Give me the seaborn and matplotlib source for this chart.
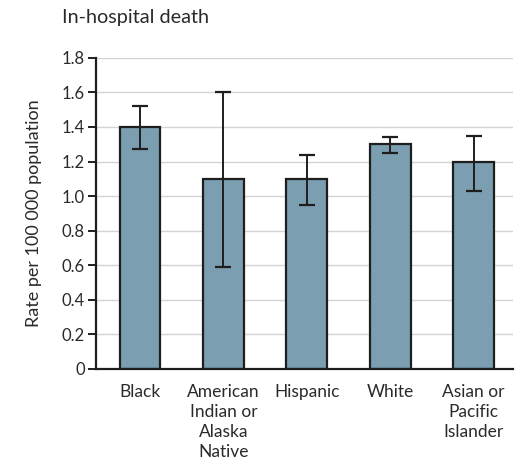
import matplotlib
matplotlib.use("Agg")
import matplotlib.pyplot as plt
import seaborn as sns
import pandas as pd

groups = ["Black", "American\nIndian or\nAlaska\nNative", "Hispanic", "White",
          "Asian or\nPacific\nIslander"]
rates = [1.4, 1.1, 1.1, 1.3, 1.2]
ci_low = [1.27, 0.59, 0.95, 1.25, 1.03]
ci_high = [1.52, 1.60, 1.24, 1.34, 1.35]
yticks = [0, 0.2, 0.4, 0.6, 0.8, 1.0, 1.2, 1.4, 1.6, 1.8]

sns.set_style("white")
plt.rcParams["font.family"] = ["Lato", "DejaVu Sans"]

df = pd.DataFrame({"group": groups, "rate": rates})

fig = plt.figure(figsize=(5.15, 4.70), dpi=100)
ax = fig.add_axes([0.186, 0.215, 0.81, 0.662])

sns.barplot(data=df, x="group", y="rate", ax=ax, color="#7b9fb1",
            saturation=1, errorbar=None, width=0.49,
            edgecolor="#1e1e1e", linewidth=1.6, zorder=2)

# confidence intervals centred on each bar
centers = [p.get_x() + p.get_width() / 2 for p in ax.patches]
lower = [r - lo for r, lo in zip(rates, ci_low)]
upper = [hi - r for r, hi in zip(rates, ci_high)]
ax.errorbar(centers, rates, yerr=[lower, upper], fmt="none",
            ecolor="#1e1e1e", elinewidth=1.4, capsize=6, capthick=1.6,
            zorder=3)

ax.set_ylim(0, 1.8)
ax.set_xlim(-0.53, 4.47)
ax.set_yticks(yticks)
ax.set_yticklabels([f"{t:.1f}" if t else "0" for t in yticks])
ax.yaxis.grid(True, color="#d4d4d4", linewidth=1.0, zorder=0)
ax.set_axisbelow(True)

for side in ("top", "right"):
    ax.spines[side].set_visible(False)
for side in ("left", "bottom"):
    ax.spines[side].set_color("#1e1e1e")
    ax.spines[side].set_linewidth(1.6)

ax.tick_params(axis="y", left=True, length=6, width=1.4, color="#1e1e1e",
               labelsize=12, labelcolor="#2a2a2a", pad=2)
ax.tick_params(axis="x", bottom=False, labelsize=12.5, labelcolor="#2a2a2a",
               pad=7)
for lab in ax.get_xticklabels():
    lab.set_linespacing(1.32)

ax.set_xlabel("")
ax.set_ylabel("Rate per 100 000 population", fontsize=13, color="#2a2a2a")
ax.yaxis.set_label_coords(-0.128, 0.5)

fig.text(0.12, 0.962, "In-hospital death", fontsize=14.3, color="#2a2a2a",
         ha="left", va="center")

fig.savefig("out.png", dpi=100, facecolor="white")
